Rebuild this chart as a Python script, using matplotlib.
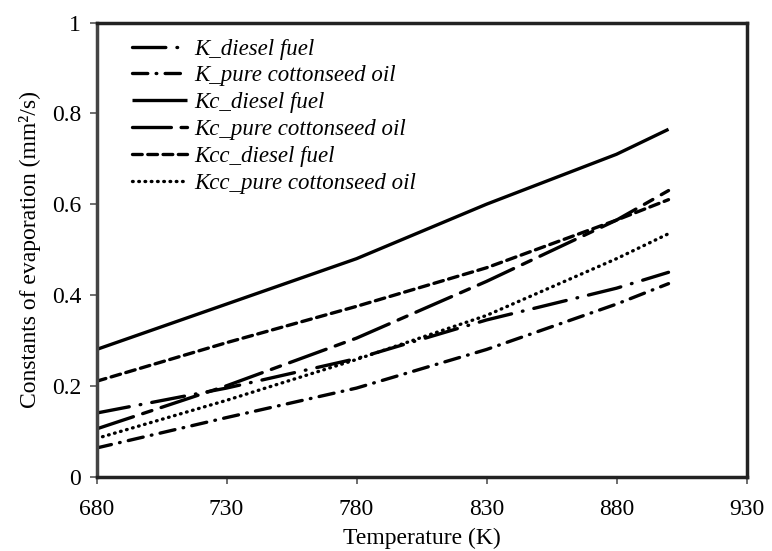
import numpy as np
import matplotlib
matplotlib.use('Agg')
import matplotlib.pyplot as plt

plt.rcParams['font.family'] = ['Liberation Serif', 'DejaVu Serif']
plt.rcParams['lines.scale_dashes'] = False

# temperature (K) and evaporation constants (mm^2/s)
temp = [680, 730, 780, 830, 880, 900]
k_diesel = [0.14, 0.195, 0.26, 0.345, 0.415, 0.45]
k_pure = [0.063, 0.13, 0.195, 0.28, 0.38, 0.425]
kc_diesel = [0.28, 0.38, 0.48, 0.60, 0.71, 0.765]
kc_pure = [0.105, 0.20, 0.305, 0.43, 0.565, 0.63]
kcc_diesel = [0.21, 0.295, 0.375, 0.46, 0.565, 0.61]
kcc_pure = [0.084, 0.168, 0.258, 0.355, 0.48, 0.535]

labels = ['K_diesel fuel', 'K_pure cottonseed oil', 'Kc_diesel fuel',
          'Kc_pure cottonseed oil', 'Kcc_diesel fuel', 'Kcc_pure cottonseed oil']
styles = [(0, (24, 8, 0.5, 8)),
          (0, (11, 6, 0.5, 6)),
          '-',
          (0, (28, 7, 7, 7)),
          (0, (7, 4)),
          (0, (0.5, 4))]

fig = plt.figure(figsize=(7.72, 5.51), dpi=100)
ax = fig.add_axes([0.125, 0.135, 0.842, 0.824])

series = [k_diesel, k_pure, kc_diesel, kc_pure, kcc_diesel, kcc_pure]
for ys, lab, ls in zip(series, labels, styles):
    ax.plot(temp, ys, color='black', lw=2.4, linestyle=ls,
            dash_capstyle='round', solid_capstyle='butt', label=lab)

ax.set_xlim(680, 930)
ax.set_ylim(0, 1)
ax.set_xticks(np.arange(680, 931, 50))
ax.set_yticks([0, 0.2, 0.4, 0.6, 0.8, 1])
ax.set_yticklabels(['0', '0.2', '0.4', '0.6', '0.8', '1'])
ax.tick_params(labelsize=17, length=5, width=1.2, color='#555555', direction='out', pad=6)
ax.tick_params(axis='x', pad=11)
for s in ax.spines.values():
    s.set_linewidth(2.5)
    s.set_color('#222222')
ax.spines['left'].set_color('#444444')

ax.set_xlabel('Temperature (K)', fontsize=17, labelpad=6)
ax.set_ylabel('Constants of evaporation (mm²/s)', fontsize=17, labelpad=8)

leg = ax.legend(loc='upper left', frameon=False, prop={'style': 'italic', 'size': 16.5},
                handlelength=2.4, handletextpad=0.3, labelspacing=0.25,
                bbox_to_anchor=(0.03, 1.0), borderaxespad=0.3)

fig.savefig('out.png', dpi=100)
